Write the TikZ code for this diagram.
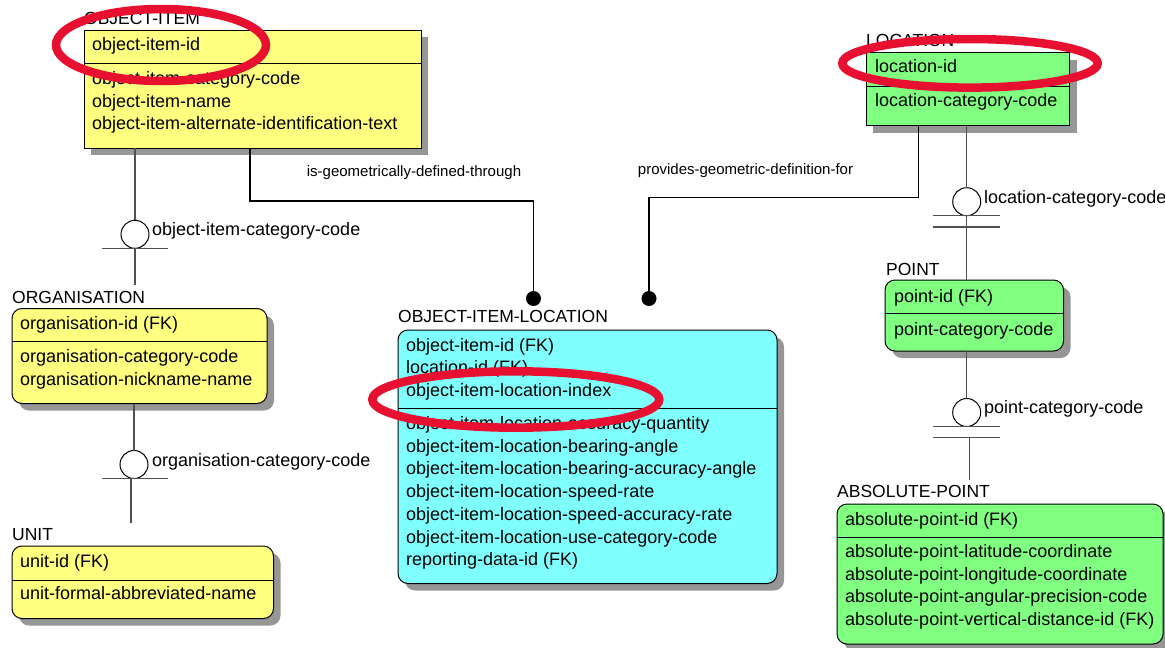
\documentclass[tikz,border=0pt]{standalone}
\usepackage{fontspec}
\setmainfont{Liberation Sans}
\usetikzlibrary{backgrounds}
\definecolor{ylw}{RGB}{255,255,128}
\definecolor{grn}{RGB}{128,255,128}
\definecolor{cyn}{RGB}{128,255,255}
\definecolor{shd}{RGB}{150,150,150}
\definecolor{hl}{RGB}{232,16,48}
\definecolor{lnk}{RGB}{80,80,80}
\begin{document}
\begin{tikzpicture}[x=1pt,y=-1pt,
  ent/.style={draw=black, line width=1pt, anchor=north west, inner sep=0, outer sep=0},
  indep/.style={ent},
  dep/.style={ent, rounded corners=10pt},
  shadowbox/.style={fill=shd},
  roundshadow/.style={fill=shd, rounded corners=10pt},
  row/.style={anchor=west, inner sep=0, font=\fontsize{18}{22}\selectfont, text height=12.9pt, text depth=3.8pt},
  title/.style={anchor=base west, inner sep=0, font=\fontsize{17.5}{21}\selectfont},
  rel/.style={inner sep=0, font=\fontsize{15}{18}\selectfont},
  lbl/.style={anchor=west, inner sep=0, font=\fontsize{18}{22}\selectfont, text height=12.9pt, text depth=3.8pt},
  ring/.style={circle, draw=black, fill=white, line width=1pt, minimum size=28pt, inner sep=0, outer sep=0},
  dot/.style={circle, fill=black, minimum size=15pt, inner sep=0, outer sep=0},
  link/.style={draw=lnk, line width=1.2pt},
  conn/.style={draw=black, line width=1.1pt},
  sepline/.style={draw=black, line width=1pt},
  hilite/.style={draw=hl, line width=8.5pt},
]
\useasboundingbox (0,0) rectangle (1165,648);

% ---------- entities ----------
\node[indep, fill=ylw, minimum width=337pt, minimum height=118pt] (oi) at (84,30) {};
\node[indep, fill=grn, minimum width=203.5pt, minimum height=73pt] (loc) at (866,52.5) {};
\node[dep, fill=cyn, minimum width=379pt, minimum height=253.5pt] (oil) at (398,330) {};
\node[dep, fill=ylw, minimum width=255pt, minimum height=95pt] (org) at (12,308.5) {};
\node[dep, fill=ylw, minimum width=261.5pt, minimum height=72.5pt] (unit) at (12,546) {};
\node[dep, fill=grn, minimum width=178.5pt, minimum height=71pt] (pt) at (885,280) {};
\node[dep, fill=grn, minimum width=326pt, minimum height=140pt] (abs) at (837,504) {};

% shadows
\begin{scope}[on background layer]
\fill[shadowbox] ([shift={(7,7)}]oi.north west) rectangle ([shift={(7,7)}]oi.south east);
\fill[shadowbox] ([shift={(7,7)}]loc.north west) rectangle ([shift={(7,7)}]loc.south east);
\fill[roundshadow] ([shift={(7,7)}]oil.north west) rectangle ([shift={(7,7)}]oil.south east);
\fill[roundshadow] ([shift={(7,7)}]org.north west) rectangle ([shift={(7,7)}]org.south east);
\fill[roundshadow] ([shift={(7,7)}]unit.north west) rectangle ([shift={(7,7)}]unit.south east);
\fill[roundshadow] ([shift={(7,7)}]pt.north west) rectangle ([shift={(7,7)}]pt.south east);
\fill[roundshadow] ([shift={(7,7)}]abs.north west) rectangle ([shift={(7,7)}]abs.south east);
\end{scope}

% separators
\draw[sepline] (oi.west |- 0,63) -- (oi.east |- 0,63);
\draw[sepline] (loc.west |- 0,86) -- (loc.east |- 0,86);
\draw[sepline] (oil.west |- 0,408.5) -- (oil.east |- 0,408.5);
\draw[sepline] (org.west |- 0,341.7) -- (org.east |- 0,341.7);
\draw[sepline] (unit.west |- 0,580) -- (unit.east |- 0,580);
\draw[sepline] (pt.west |- 0,313.5) -- (pt.east |- 0,313.5);
\draw[sepline] (abs.west |- 0,537.5) -- (abs.east |- 0,537.5);

% titles
\node[title] (toi) at (84,24) {OBJECT-ITEM};
\node[title] (tloc) at (866,46) {LOCATION};
\node[title] (toil) at (398,322) {OBJECT-ITEM-LOCATION};
\node[title] (torg) at (12,303) {ORGANISATION};
\node[title] (tunit) at (12,540) {UNIT};
\node[title] (tpt) at (886,275) {POINT};
\node[title] (tabs) at (837,497) {ABSOLUTE-POINT};

% rows
\node[row] (oi1) at (92,45.5) {object-item-id};
\node[row] (oi2) at (92,80) {object-item-category-code};
\node[row] (oi3) at (92,102.5) {object-item-name};
\node[row] (oi4) at (92,125) {object-item-alternate-identification-text};

\node[row] (loc1) at (875,67.7) {location-id};
\node[row] (loc2) at (875,101.7) {location-category-code};

\node[row] (oil1) at (406,346.5) {object-item-id (FK)};
\node[row] (oil2) at (406,369) {location-id (FK)};
\node[row] (oil3) at (406,391.5) {object-item-location-index};
\node[row] (oil4) at (406,425) {object-item-location-accuracy-quantity};
\node[row] (oil5) at (406,447.7) {object-item-location-bearing-angle};
\node[row] (oil6) at (406,470.4) {object-item-location-bearing-accuracy-angle};
\node[row] (oil7) at (406,493.1) {object-item-location-speed-rate};
\node[row] (oil8) at (406,515.8) {object-item-location-speed-accuracy-rate};
\node[row] (oil9) at (406,538.5) {object-item-location-use-category-code};
\node[row] (oil10) at (406,561.2) {reporting-data-id (FK)};

\node[row] (org1) at (20,324.5) {organisation-id (FK)};
\node[row] (org2) at (20,358.3) {organisation-category-code};
\node[row] (org3) at (20,380.8) {organisation-nickname-name};

\node[row] (unit1) at (20,562.7) {unit-id (FK)};
\node[row] (unit2) at (20,595) {unit-formal-abbreviated-name};

\node[row] (pt1) at (894,297.7) {point-id (FK)};
\node[row] (pt2) at (894,330.7) {point-category-code};

\node[row] (abs1) at (845,520.7) {absolute-point-id (FK)};
\node[row] (abs2) at (845,553.3) {absolute-point-latitude-coordinate};
\node[row] (abs3) at (845,575.8) {absolute-point-longitude-coordinate};
\node[row] (abs4) at (845,598.3) {absolute-point-angular-precision-code};
\node[row] (abs5) at (845,620.8) {absolute-point-vertical-distance-id (FK)};

% ---------- subtype relationships ----------
% OBJECT-ITEM -> ORGANISATION
\node[ring] (r1) at (135,234.3) {};
\coordinate (orgtop) at (135,285);
\draw[link] (oi.south -| r1) -- (r1.north);
\draw[link] (r1.south) -- (orgtop);
\draw[link] ([xshift=-33pt]r1.south) -- ([xshift=33pt]r1.south);
\node[lbl] (lr1) at (152,231) {object-item-category-code};

% ORGANISATION -> UNIT
\node[ring] (r2) at (134,464.5) {};
\coordinate (unittop) at (131,523);
\draw[link] (org.south -| r2) -- (r2.north);
\draw[link] (unittop |- r2.south) -- (unittop);
\draw[link] ([xshift=-32pt]r2.south) -- ([xshift=34pt]r2.south);
\node[lbl] (lr2) at (152,462) {organisation-category-code};

% LOCATION -> POINT
\node[ring] (r3) at (966.7,201.7) {};
\draw[link] (loc.south -| r3) -- (r3.north);
\draw[link] (r3.south) -- (pt.north -| r3);
\draw[link] ([xshift=-33.3pt]r3.south) -- ([xshift=33.3pt]r3.south);
\draw[link] ([shift={(-33.3,11.3)}]r3.south) -- ([shift={(33.3,11.3)}]r3.south);
\node[lbl] (lr3) at (984,199) {location-category-code};

% POINT -> ABSOLUTE-POINT
\node[ring] (r4) at (966.7,412.5) {};
\coordinate (abstop) at (969.3,480);
\draw[link] (pt.south -| r4) -- (r4.north);
\draw[link] ([shift={(-33.3,0)}]r4.south) -- ([shift={(33.3,0)}]r4.south);
\draw[link] ([shift={(-33.3,11.3)}]r4.south) -- ([shift={(33.3,11.3)}]r4.south);
\draw[link] (abstop |- 0,438.3) -- (abstop);
\node[lbl] (lr4) at (984,409.3) {point-category-code};

% ---------- non-identifying relationships ----------
\node[dot] (d1) at (533.5,298.5) {};
\node[dot] (d2) at (649,298.5) {};
\coordinate (b1) at (250,201);
\coordinate (b2) at (918.3,197.7);
\draw[conn] (oi.south -| b1) -- (b1) -| (d1.center);
\draw[conn] (loc.south -| b2) -- (b2) -| (d2.center);
\node[rel] (l1) at (414,172.5) {is-geometrically-defined-through};
\node[rel] (l2) at (745.5,171) {provides-geometric-definition-for};

% ---------- highlights ----------
\draw[hilite] (161,45) ellipse [x radius=105, y radius=36];
\draw[hilite] (970,63.3) ellipse [x radius=127.7, y radius=24.3];
\draw[hilite] (515.8,399.5) ellipse [x radius=143.5, y radius=28.2];
\end{tikzpicture}
\end{document}
